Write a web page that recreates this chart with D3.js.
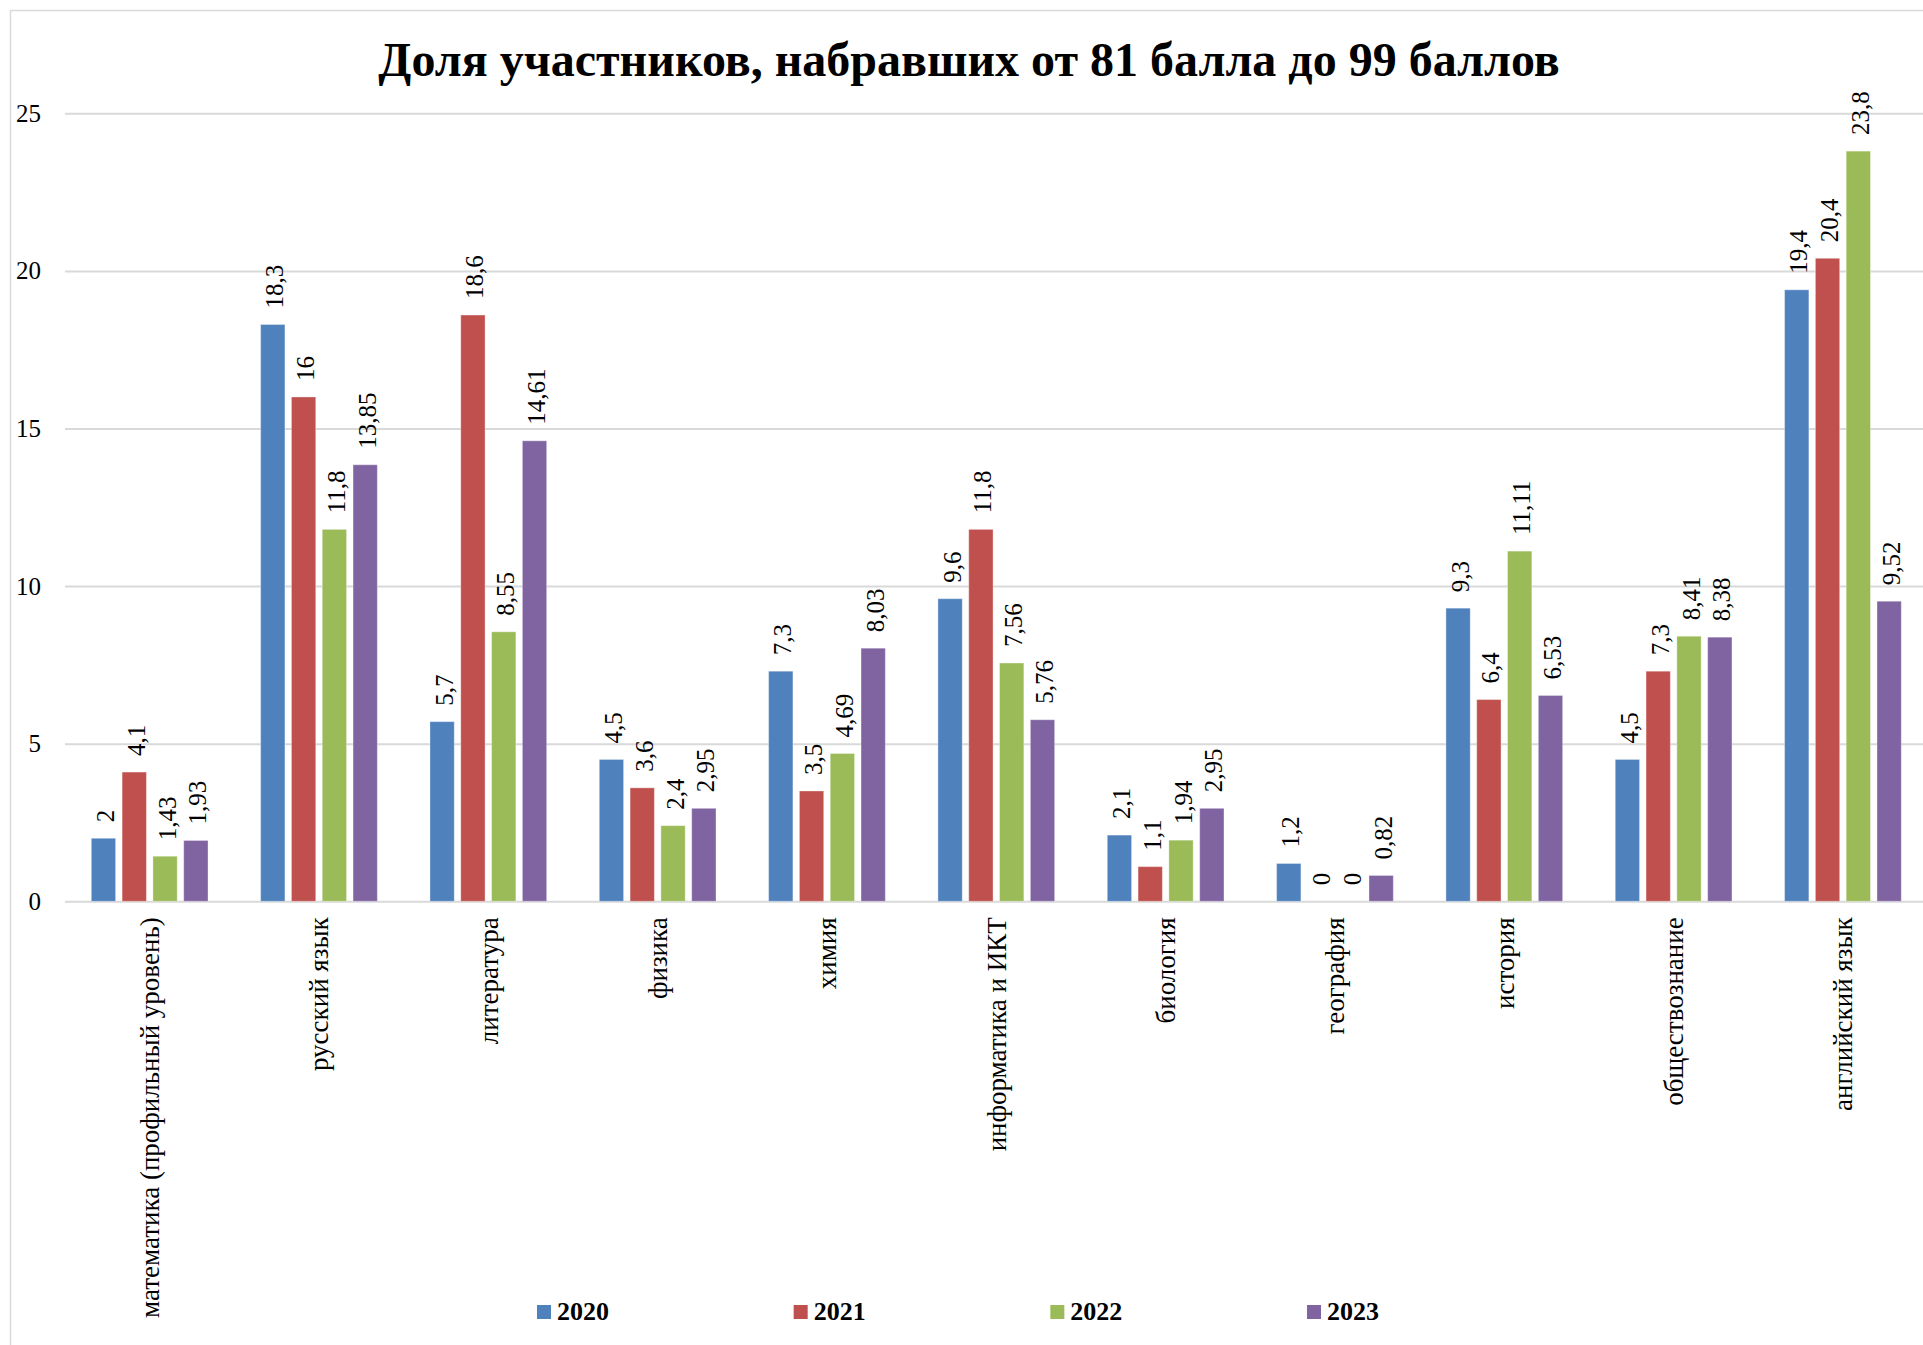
<!DOCTYPE html>
<html>
<head>
<meta charset="utf-8">
<script src="https://cdn.jsdelivr.net/npm/d3@7"></script>
<style>
  html, body { margin: 0; padding: 0; background: #ffffff; }
  svg { display: block; }
</style>
</head>
<body>
<svg id="chart" width="1923" height="1345"></svg>
<script>
const title = "Доля участников, набравших от 81 балла до 99 баллов";
const categories = [
  "математика (профильный уровень)", "русский язык", "литература", "физика", "химия",
  "информатика и ИКТ", "биология", "география", "история", "обществознание", "английский язык"
];
const seriesNames = ["2020", "2021", "2022", "2023"];
const values2020 = [2, 18.3, 5.7, 4.5, 7.3, 9.6, 2.1, 1.2, 9.3, 4.5, 19.4];
const values2021 = [4.1, 16, 18.6, 3.6, 3.5, 11.8, 1.1, 0, 6.4, 7.3, 20.4];
const values2022 = [1.43, 11.8, 8.55, 2.4, 4.69, 7.56, 1.94, 0, 11.11, 8.41, 23.8];
const values2023 = [1.93, 13.85, 14.61, 2.95, 8.03, 5.76, 2.95, 0.82, 6.53, 8.38, 9.52];
const yTicks = [0, 5, 10, 15, 20, 25];
const colors = ["#4F81BD", "#C0504D", "#9BBB59", "#8064A2"];

const seriesValues = [values2020, values2021, values2022, values2023];
const rows = categories.map((c, i) => ({
  cat: c,
  vals: seriesNames.map((s, j) => ({ s, j, v: seriesValues[j][i] }))
}));

const svg = d3.select("#chart");
const FONT = "'Liberation Serif', 'Times New Roman', serif";

// chart frame
svg.append("rect").attr("x", 10.5).attr("y", 10.5).attr("width", 2000).attr("height", 2000)
  .attr("fill", "#ffffff").attr("stroke", "#d9d9d9").attr("stroke-width", 1.5);

const x0 = d3.scaleBand().domain(categories).range([65, 1927.6]).paddingInner(0).paddingOuter(0);
const x1 = d3.scaleBand().domain(seriesNames).range([0, x0.bandwidth()]).paddingInner(0.211).paddingOuter(0.854);
const y = d3.scaleLinear().domain([0, 25]).range([901.3, 113.3]);

// gridlines
const yAxis = d3.axisLeft(y).tickValues(yTicks).tickSize(-(1923 - 65)).tickFormat(d => d);
const gy = svg.append("g").attr("transform", "translate(65,0)").call(yAxis);
gy.select(".domain").remove();
gy.selectAll(".tick line").attr("stroke", "#d9d9d9").attr("stroke-width", 2);
gy.selectAll(".tick text").attr("x", -24).attr("font-family", FONT).attr("font-size", 25)
  .attr("fill", "#000").attr("dy", "0.32em");

// bars
const groups = svg.append("g").selectAll("g").data(rows).join("g")
  .attr("transform", d => `translate(${x0(d.cat)},0)`);
groups.selectAll("rect").data(d => d.vals).join("rect")
  .attr("x", d => x1(d.s)).attr("width", x1.bandwidth())
  .attr("y", d => y(d.v)).attr("height", d => y(0) - y(d.v))
  .attr("fill", d => colors[d.j])
  .attr("stroke", "#ffffff").attr("stroke-opacity", 0.35).attr("stroke-width", 1);

// data labels
groups.selectAll("text").data(d => d.vals).join("text")
  .attr("transform", d => `translate(${x1(d.s) + x1.bandwidth() / 2},${y(d.v) - 16}) rotate(-90)`)
  .attr("dy", "0.42em")
  .attr("text-anchor", "start")
  .attr("font-family", FONT).attr("font-size", 25).attr("fill", "#000")
  .text(d => String(d.v).replace(".", ","));

// category labels
const xAxis = d3.axisBottom(x0).tickSize(0);
const gx = svg.append("g").attr("transform", `translate(0,${y(0)})`).call(xAxis);
gx.select(".domain").remove();
gx.selectAll(".tick text")
  .attr("transform", "translate(0,16) rotate(-90)")
  .attr("x", 0).attr("y", 0).attr("dy", "0.35em")
  .attr("text-anchor", "end")
  .attr("font-family", FONT).attr("font-size", 27).attr("fill", "#000");

// title
svg.append("text").attr("x", 969).attr("y", 76).attr("text-anchor", "middle")
  .attr("font-family", FONT).attr("font-weight", "bold").attr("font-size", 48).attr("fill", "#000")
  .text(title);

// legend
const legendX = d3.scalePoint().domain(seriesNames).range([537, 1307]);
const lg = svg.append("g").selectAll("g").data(seriesNames).join("g")
  .attr("transform", d => `translate(${legendX(d)},1305)`);
lg.append("rect").attr("width", 14).attr("height", 14).attr("fill", (d, i) => colors[i]);
lg.append("text").attr("x", 20).attr("y", 15).attr("font-family", FONT).attr("font-weight", "bold")
  .attr("font-size", 26).attr("fill", "#000").text(d => d);
</script>
</body>
</html>
